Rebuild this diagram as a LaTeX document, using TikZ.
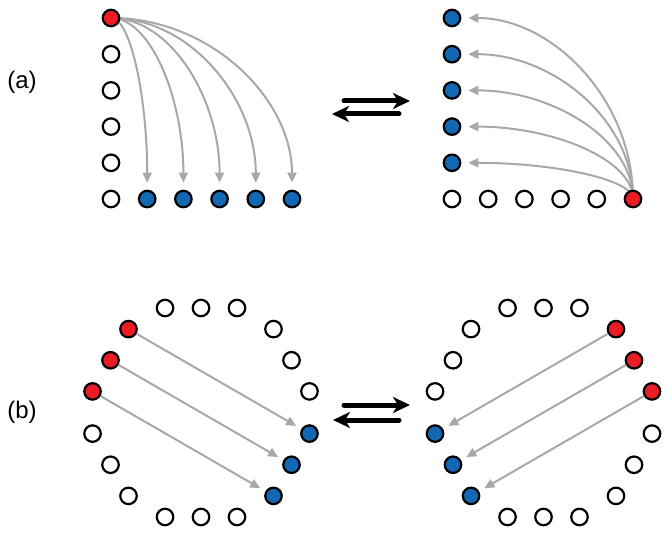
\documentclass[tikz,border=0pt]{standalone}
\usepackage{fontspec}
\setmainfont{Liberation Sans}
\usetikzlibrary{arrows.meta,backgrounds}
\definecolor{myred}{HTML}{EC1C24}
\definecolor{myblue}{HTML}{1268B3}
\definecolor{mygray}{HTML}{A8A8A8}
\begin{document}
\begin{tikzpicture}[x=1pt,y=-1pt,
  dot/.style={circle,draw=black,line width=2.2pt,minimum size=16.5pt,inner sep=0pt,fill=white},
  rdot/.style={dot,fill=myred},
  bdot/.style={dot,fill=myblue},
  garr/.style={draw=mygray,line width=2pt,-{Triangle[length=10pt,width=9pt]}},
  barr/.style={line width=5pt,line cap=round,-{Stealth[length=17pt,width=16pt,inset=5pt]}},
  lab/.style={font=\fontsize{24}{28}\selectfont,inner sep=0pt}]
\useasboundingbox (0,0) rectangle (670,535);
% labels
\node[lab] (la) at (22,82) {(a)};
\node[lab] (lb) at (22,412) {(b)};
% ---------- (a) left ----------
\node[rdot] (A0) at (111,18) {};
\foreach \i in {1,...,4} \node[dot] (A\i) at (111,{18+36.2*\i}) {};
\node[dot] (A5) at (111,199) {};
\foreach \j in {1,...,5} \node[bdot] (B\j) at ({111+36.2*\j},199) {};
\begin{scope}[on background layer]
\foreach \j in {1,...,5}
  \draw[garr,shorten >=7pt] (A0.center) .. controls ({111+0.552*36.2*\j},18) and ({111+36.2*\j},99) .. (B\j);
\end{scope}
% ---------- (a) right ----------
\node[rdot] (C0) at (633,199) {};
\foreach \j in {1,...,5} \node[dot] (C\j) at ({633-36.2*\j},199) {};
\foreach \i in {0,...,4} \node[bdot] (D\i) at (452,{18+36.2*\i}) {};
\begin{scope}[on background layer]
\foreach \i in {0,...,4}
  \draw[garr,shorten >=7pt] (C0.center) .. controls (633,{199-0.552*(181-36.2*\i)}) and (552,{18+36.2*\i}) .. (D\i);
\end{scope}
% ---------- (b) left ring ----------
\foreach \k/\st in {0/dot,1/dot,2/bdot,3/dot,4/dot,5/rdot}
  \foreach \s/\r/\n in {-19/110.5/1,0/104.5/2,19/110.5/3}
    \node[\st] (L\k\n) at ([shift={({-90+60*\k+\s}:\r)}]201,412.5) {};
\draw[garr,shorten >=6pt] (L53) -- (L21);
\draw[garr,shorten >=6pt] (L52) -- (L22);
\draw[garr,shorten >=6pt] (L51) -- (L23);
% ---------- (b) right ring ----------
\foreach \k/\st in {0/dot,1/rdot,2/dot,3/dot,4/bdot,5/dot}
  \foreach \s/\r/\n in {-19/110.5/1,0/104.5/2,19/110.5/3}
    \node[\st] (R\k\n) at ([shift={({-90+60*\k+\s}:\r)}]543.5,412.5) {};
\draw[garr,shorten >=6pt] (R11) -- (R43);
\draw[garr,shorten >=6pt] (R12) -- (R42);
\draw[garr,shorten >=6pt] (R13) -- (R41);
% ---------- equilibrium arrows ----------
\coordinate (a1s) at (344,101); \coordinate (a1e) at (410,101);
\coordinate (a2s) at (399,114); \coordinate (a2e) at (332,114);
\coordinate (b1s) at (344,405); \coordinate (b1e) at (410,405);
\coordinate (b2s) at (399,420); \coordinate (b2e) at (333,420);
\draw[barr] (a1s) -- (a1e);
\draw[barr] (a2s) -- (a2e);
\draw[barr] (b1s) -- (b1e);
\draw[barr] (b2s) -- (b2e);
\end{tikzpicture}
\end{document}
